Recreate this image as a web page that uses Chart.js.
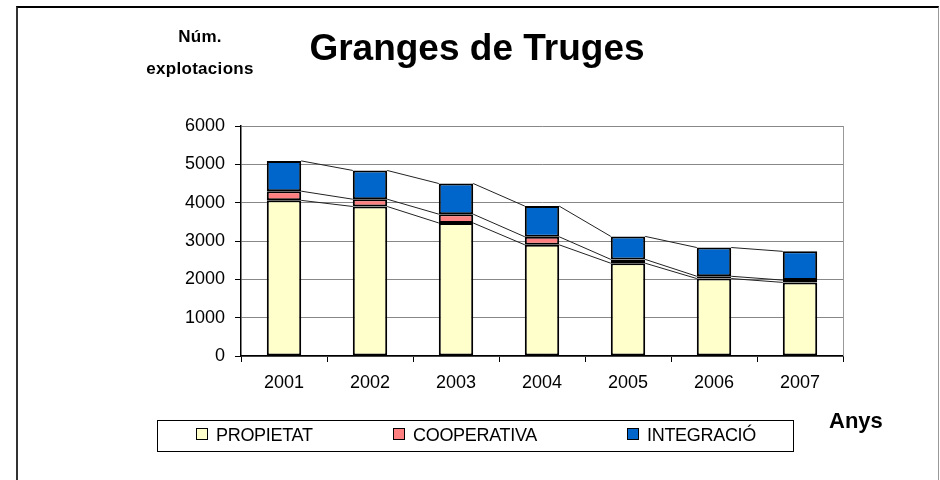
<!DOCTYPE html>
<html>
<head>
<meta charset="utf-8">
<script src="https://cdn.jsdelivr.net/npm/chart.js@4"></script>
<style>
  body { margin: 0; background: #fff; font-family: "Liberation Sans", Arial, sans-serif; }
  #wrap { position: relative; width: 940px; height: 480px; overflow: hidden; }
  #frame { position: absolute; left: 16px; top: 6px; width: 920px; height: 520px;
           border-top: 2px solid #000; border-left: 2px solid #333; border-right: 1px solid #999; }
  canvas { position: absolute; left: 0; top: 0; }
  .txt { position: absolute; font-weight: bold; color: #000; white-space: nowrap; }
  #title { left: 0; width: 954px; text-align: center; top: 27px; font-size: 37px; }
  #ylab { left: 130px; width: 140px; text-align: center; top: 21px; font-size: 17px; line-height: 32px; letter-spacing: 0.3px; }
  #xlab { left: 829px; top: 408px; font-size: 22px; }
  #legend { position: absolute; left: 157px; top: 420px; width: 635px; height: 30px;
            border: 1px solid #000; }
  .item { position: absolute; top: 4px; font-size: 18px; letter-spacing: -0.3px; }
  .item span { display: inline-block; width: 10px; height: 10px; border: 1px solid #000;
               margin-right: 8px; vertical-align: 1px; }
</style>
</head>
<body>
<div id="wrap">
  <div id="frame"></div>
  <canvas id="chart" width="940" height="480"></canvas>
  <div class="txt" id="title">Granges de Truges</div>
  <div class="txt" id="ylab">Núm.<br>explotacions</div>
  <div class="txt" id="xlab">Anys</div>
  <div id="legend"></div>
</div>
<script>
const years = ['2001', '2002', '2003', '2004', '2005', '2006', '2007'];
const seriesNames = ['PROPIETAT', 'COOPERATIVA', 'INTEGRACIÓ'];
const seriesColors = ['#FFFFCC', '#FF8080', '#0066CC'];
const propietat = [4060, 3900, 3470, 2900, 2420, 2020, 1920];
const cooperativa = [240, 190, 230, 210, 100, 60, 60];
const integracio = [790, 750, 800, 800, 600, 750, 750];
const yTicks = [0, 1000, 2000, 3000, 4000, 5000, 6000];

// legend (html)
const legendX = [38, 235, 469];
const legend = document.getElementById('legend');
seriesNames.forEach((name, i) => {
  const d = document.createElement('div');
  d.className = 'item';
  d.style.left = legendX[i] + 'px';
  d.innerHTML = '<span style="background:' + seriesColors[i] + '"></span>' + name;
  legend.appendChild(d);
});

// series lines between bar tops + grey plot border
const seriesLines = {
  id: 'seriesLines',
  beforeDatasetsDraw(chart) {
    const a = chart.chartArea, ctx = chart.ctx;
    ctx.save();
    ctx.strokeStyle = '#999';
    ctx.lineWidth = 1;
    ctx.beginPath();
    ctx.moveTo(a.right + 0.5, a.top);
    ctx.lineTo(a.right + 0.5, a.bottom);
    ctx.stroke();
    ctx.restore();
  },
  afterDatasetsDraw(chart) {
    const ctx = chart.ctx;
    ctx.save();
    ctx.strokeStyle = '#222';
    ctx.lineWidth = 1;
    chart.data.datasets.forEach((ds, di) => {
      const bars = chart.getDatasetMeta(di).data;
      ctx.beginPath();
      for (let i = 0; i < bars.length - 1; i++) {
        const b = bars[i], n = bars[i + 1];
        ctx.moveTo(b.x + b.width / 2, b.y);
        ctx.lineTo(n.x - n.width / 2, n.y);
      }
      ctx.stroke();
    });
    ctx.restore();
  }
};

const ctx = document.getElementById('chart').getContext('2d');
new Chart(ctx, {
  type: 'bar',
  data: {
    labels: years,
    datasets: [propietat, cooperativa, integracio].map((vals, i) => ({
      label: seriesNames[i],
      data: vals,
      backgroundColor: seriesColors[i],
      borderColor: '#000',
      borderWidth: 2,
      borderSkipped: false,
      categoryPercentage: 1,
      barPercentage: 0.4
    }))
  },
  options: {
    responsive: false,
    animation: false,
    layout: { padding: { left: 0, top: 126, right: 97, bottom: 0 } },
    plugins: { legend: { display: false }, title: { display: false }, tooltip: { enabled: false } },
    scales: {
      x: {
        stacked: true,
        afterFit(s) { s.height = 124; },
        grid: { offset: true, drawOnChartArea: false, color: '#000', tickLength: 6 },
        border: { color: '#000', width: 1.5 },
        ticks: { color: '#000', padding: 10, font: { family: 'Liberation Sans', size: 18 } }
      },
      y: {
        stacked: true,
        min: 0,
        max: 6000,
        afterFit(s) { s.width = 241; },
        afterBuildTicks(s) { s.ticks = yTicks.map(v => ({ value: v })); },
        grid: { color: '#888', tickLength: 6, tickColor: '#000' },
        border: { color: '#000', width: 1.5 },
        ticks: {
          color: '#000', padding: 10, font: { family: 'Liberation Sans', size: 18 },
          callback: v => String(v)
        }
      }
    }
  },
  plugins: [seriesLines]
});
</script>
</body>
</html>
